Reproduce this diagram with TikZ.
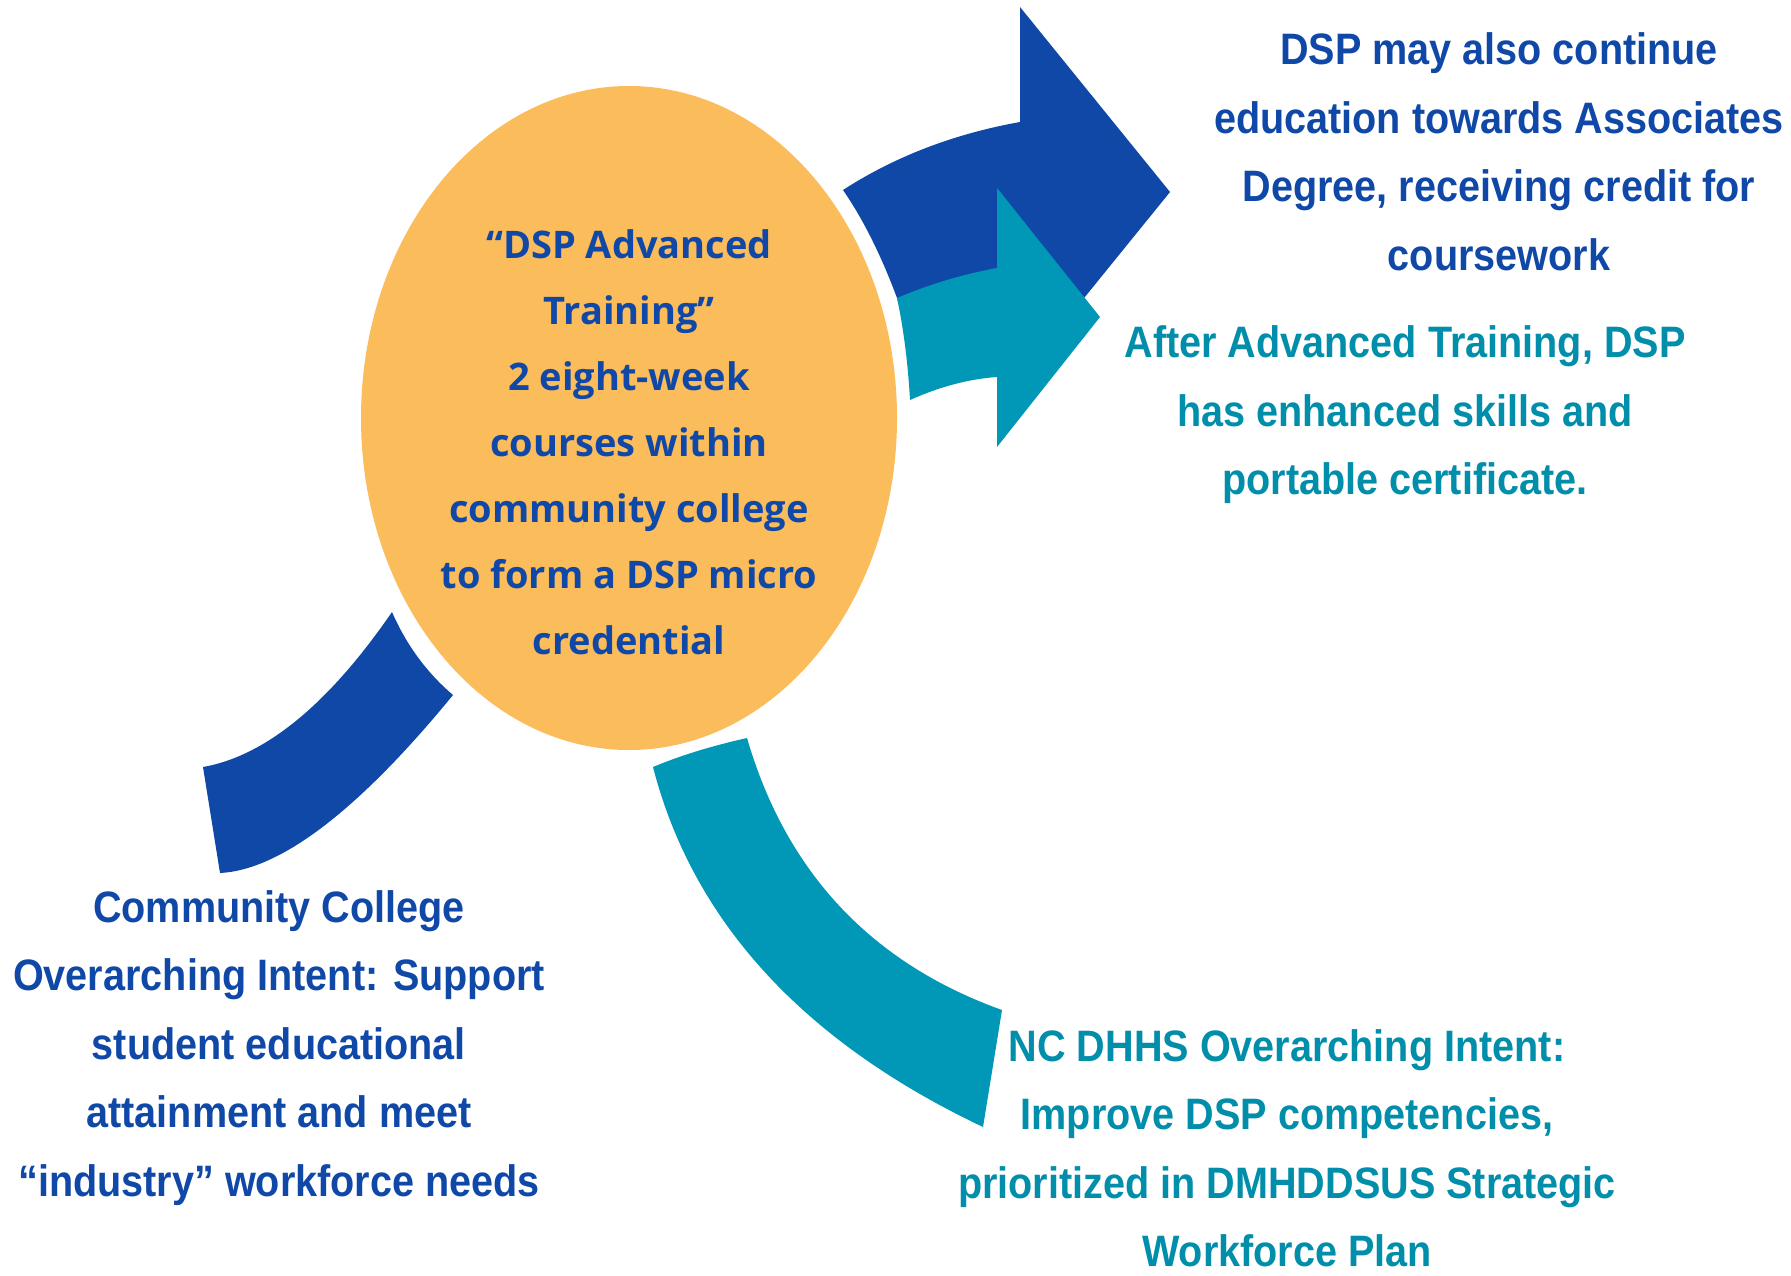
\documentclass[tikz,border=0pt]{standalone}
\usepackage{fontspec}
\setmainfont{Liberation Sans}
\newfontfamily\sidefont[FakeStretch=0.9]{Liberation Sans}
\newfontfamily\corefont{Open Sans}
\usepackage{tikz}
\usetikzlibrary{shapes.geometric}
\usepackage{xcolor}
\definecolor{dspblue}{RGB}{16,72,168}
\definecolor{dspteal}{RGB}{0,152,182}
\definecolor{dsptealtxt}{RGB}{0,142,170}
\definecolor{dsporange}{RGB}{251,188,92}

\begin{document}
\begin{tikzpicture}[x=0.5pt,y=-0.5pt]
  \tikzstyle{core}=[ellipse,fill=dsporange,minimum width=268pt,minimum height=332pt,inner sep=0pt]
  \tikzstyle{coretext}=[align=center,text=dspblue,font=\corefont\bfseries\fontsize{19}{33}\selectfont]
  \tikzstyle{bluetext}=[align=center,text=dspblue,font=\sidefont\bfseries\fontsize{22}{34.25}\selectfont]
  \tikzstyle{tealtext}=[bluetext,text=dsptealtxt]
  \useasboundingbox (0,0) rectangle (1791,1275);
  % centre
  \node(core) at (629,418)[core]{};
  \node(core-txt) at (629,442)[coretext]{“DSP Advanced\\Training”\\2 eight-week\\courses within\\community college\\to form a DSP micro\\credential};
  % arrows out to the right
  \fill[dspblue] (843,190) .. controls (894,157) and (953,134) .. (1020,122) -- (1020,7) -- (1170,192)
    -- (1020,377) -- (907,333) -- (897,298) .. controls (881,255) and (863,219) .. (843,190) -- cycle;
  \fill[dspteal] (897,298) .. controls (930,284) and (964,274) .. (997,268) -- (997,188) -- (1100,317)
    -- (997,447) -- (997,377) .. controls (968,379) and (939,387) .. (910,400)
    .. controls (908,365) and (904,331) .. (897,298) -- cycle;
  % arcs below
  \fill[dspblue] (392,612) .. controls (406,644) and (426,672) .. (453,695)
    .. controls (358,811) and (280,870) .. (220,873) -- (203,767)
    .. controls (265,756) and (328,705) .. (392,612) -- cycle;
  \fill[dspteal] (653,767) .. controls (684,754) and (716,745) .. (747,738)
    .. controls (786,872) and (871,963) .. (1002,1010) -- (983,1127)
    .. controls (804,1042) and (693,922) .. (653,767) -- cycle;
  % texts
  \node(cont-txt) at (1499,152)[bluetext]{DSP may also continue\\education towards Associates\\Degree, receiving credit for\\coursework};
  \node(skill-txt) at (1405,415)[tealtext]{After Advanced Training, DSP\\has enhanced skills and\\portable certificate.};
  \node(cc-txt) at (279,1048)[bluetext]{Community College\\Overarching Intent: Support\\student educational\\attainment and meet\\“industry” workforce needs};
  \node(dhhs-txt) at (1287,1148)[tealtext]{NC DHHS Overarching Intent:\\Improve DSP competencies,\\prioritized in DMHDDSUS Strategic\\Workforce Plan};
\end{tikzpicture}
\end{document}
